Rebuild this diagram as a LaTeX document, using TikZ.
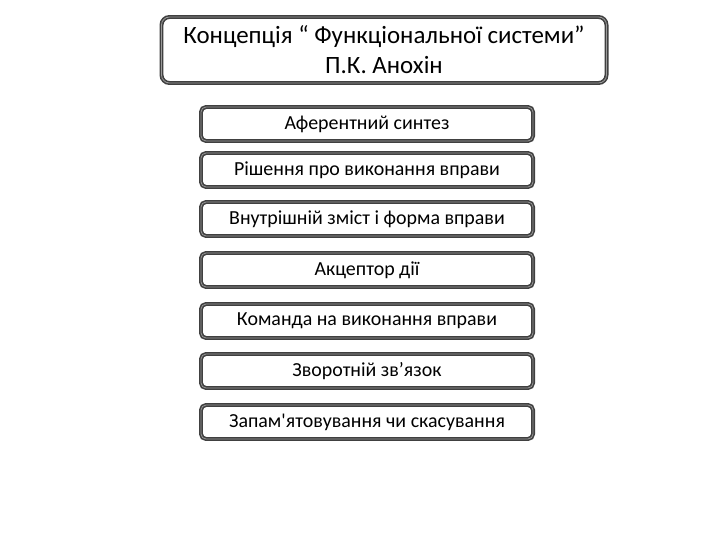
\documentclass[tikz,border=0pt]{standalone}
\usepackage{fontspec}
\setmainfont{Carlito}
\begin{document}
\begin{tikzpicture}[x=1bp,y=-1bp,
 bx/.style={draw=black!75,line width=4pt,rounded corners=5bp,fill=white,
   minimum height=34bp,minimum width=332bp,inner sep=0pt,
   font=\fontsize{20}{22}\selectfont,
   postaction={draw=black!40,line width=0.8pt}},
 tb/.style={bx,minimum width=445bp,minimum height=66bp,rounded corners=8bp,align=center,
   font=\fontsize{25}{30}\selectfont}]
\useasboundingbox (0,0) rectangle (720,540);
\node[tb] (t) at (384,50) {Концепція “ Функціональної системи”\\П.К. Анохін};
\node[bx] (a) at (367,124) {Аферентний синтез};
\node[bx] (b) at (367,170) {Рішення про виконання вправи};
\node[bx] (c) at (367,219) {Внутрішній зміст і форма вправи};
\node[bx] (d) at (367,270) {Акцептор дії};
\node[bx] (e) at (367,321) {Команда на виконання вправи};
\node[bx] (f) at (367,371) {Зворотній зв’язок};
\node[bx] (g) at (367,422) {Запам\textquotesingle ятовування чи скасування};
\end{tikzpicture}
\end{document}
